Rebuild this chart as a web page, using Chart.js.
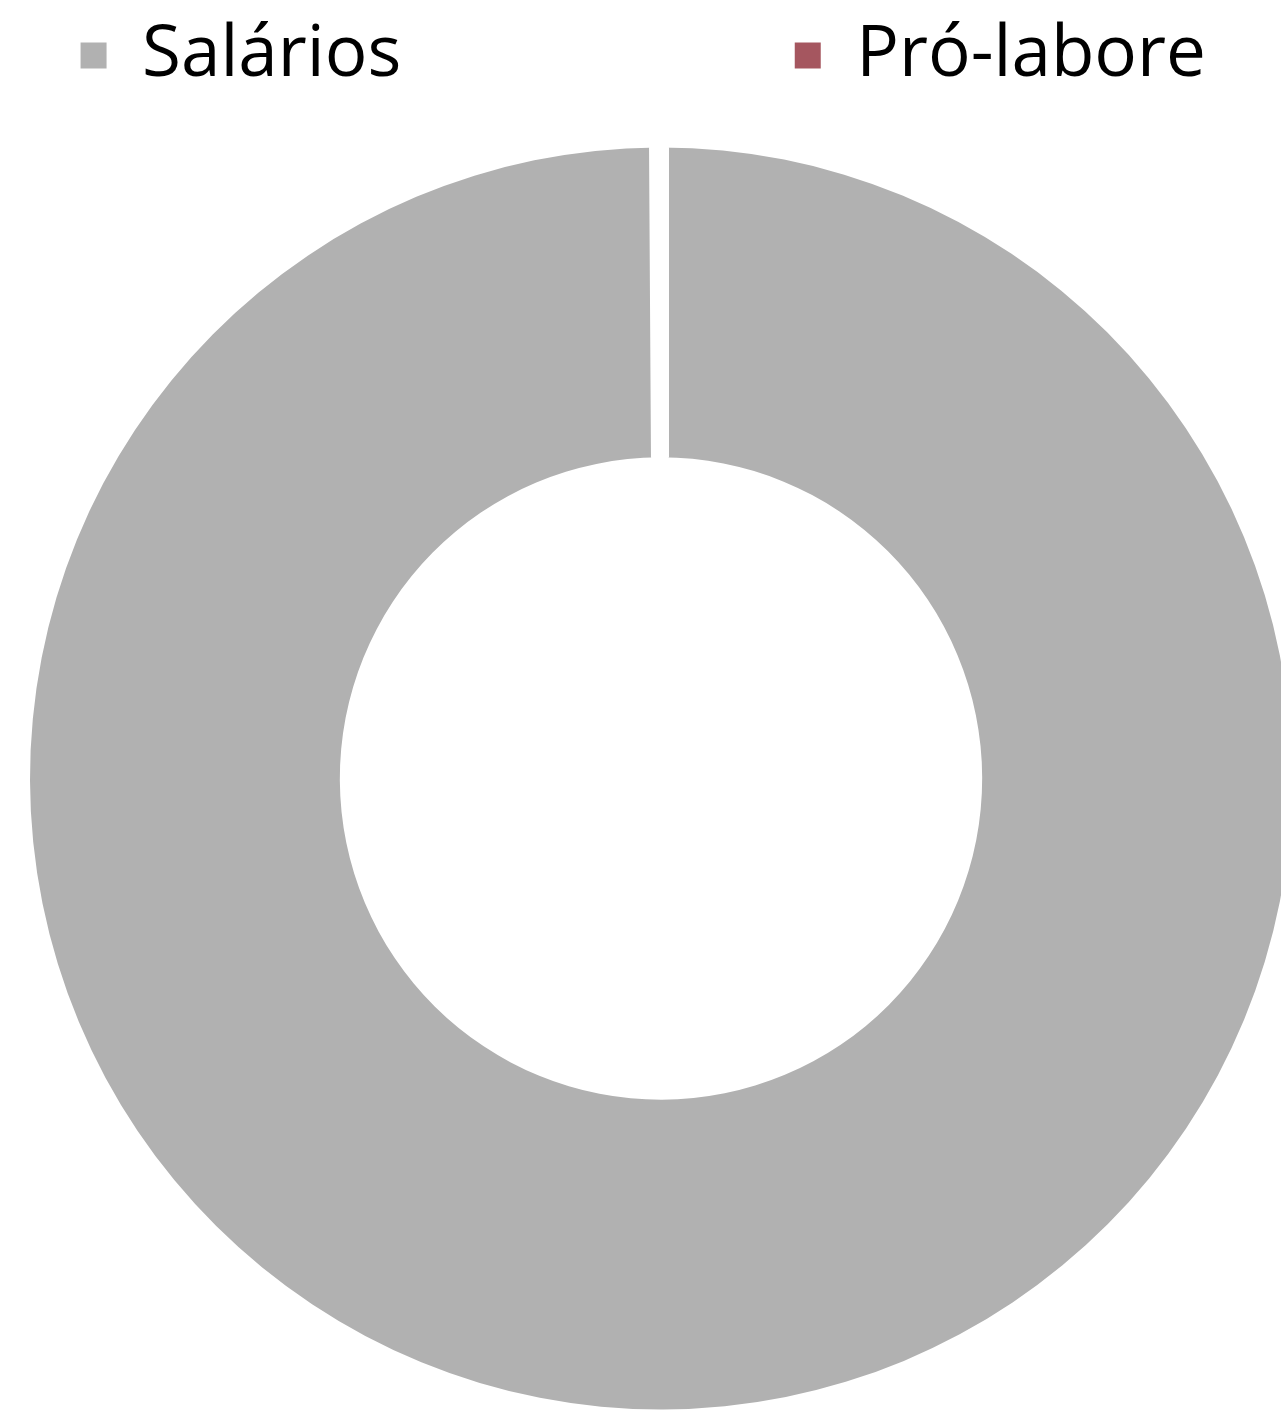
<!DOCTYPE html>
<html>
<head>
<meta charset="utf-8">
<script src="https://cdn.jsdelivr.net/npm/chart.js@4.4.1/dist/chart.umd.min.js"></script>
<style>
  html, body { margin: 0; padding: 0; background: #fff; overflow: hidden; }
  #wrap { position: relative; width: 1322px; height: 1456px; }
</style>
</head>
<body>
<div id="wrap"><canvas id="donut"></canvas></div>
<script>
// dados do gráfico
const categorias = ['Salários', 'Pró-labore'];
const valores = [99.9, 0.1];
const cores = ['#b1b1b1', '#a5565f'];
// espaços no fim da legenda para afastar os itens
const espacosLegenda = ['\u2003\u2003\u2003\u2003\u2003 ', '\u2002'];

const ctx = document.getElementById('donut').getContext('2d');
const chart = new Chart(ctx, {
    type: 'doughnut',
    data: {
        labels: categorias,
        datasets: [{
            data: valores,
            backgroundColor: cores,
            borderColor: '#ffffff',
            borderWidth: [0, 16],
            radius: 631,
            cutout: '50.9%'
        }]
    },
    options: {
        responsive: true,
        maintainAspectRatio: false,
        animation: false,
        layout: { padding: 0 },
        plugins: {
            tooltip: { enabled: false },
            legend: {
                display: true,
                position: 'top',
                maxHeight: 110,
                labels: {
                    font: { family: '"Open Sans"', size: 71 },
                    color: '#000000',
                    boxWidth: 26,
                    boxHeight: 26,
                    padding: 20,
                    generateLabels(chart) {
                        const ds = chart.data.datasets[0];
                        return chart.data.labels.map((l, i) => ({
                            text: l + espacosLegenda[i],
                            fillStyle: ds.backgroundColor[i],
                            strokeStyle: ds.backgroundColor[i],
                            lineWidth: 0,
                            hidden: false,
                            index: i
                        }));
                    }
                }
            }
        }
    }
});
</script>
</body>
</html>
